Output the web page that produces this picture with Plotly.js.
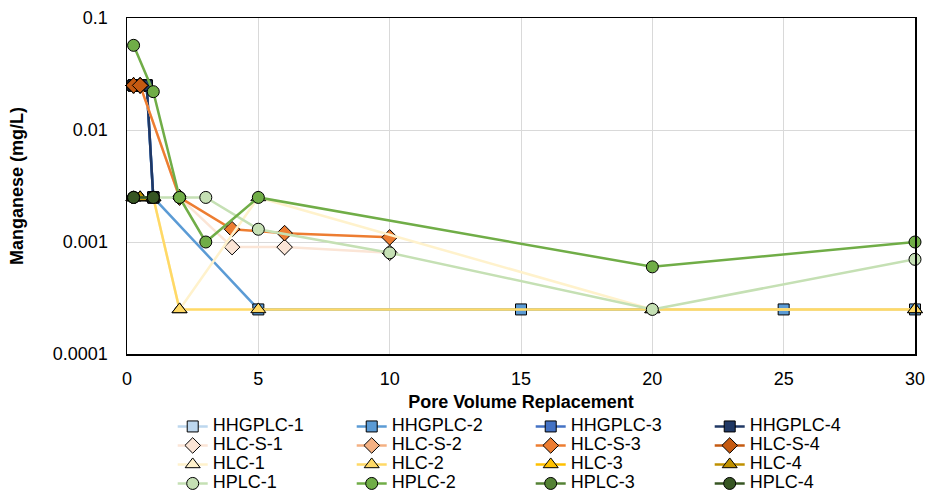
<!DOCTYPE html>
<html>
<head>
<meta charset="utf-8">
<script src="https://cdn.plot.ly/plotly-3.0.1.min.js"></script>
<style>html,body{margin:0;padding:0;background:#fff;}#chart{width:929px;height:491px;}</style>
</head>
<body>
<div id="chart"></div>
<script>
// ---- data ----
const names = ["HHGPLC-1","HHGPLC-2","HHGPLC-3","HHGPLC-4",
               "HLC-S-1","HLC-S-2","HLC-S-3","HLC-S-4",
               "HLC-1","HLC-2","HLC-3","HLC-4",
               "HPLC-1","HPLC-2","HPLC-3","HPLC-4"];

const hhgplc1X = [0.25, 0.5, 0.75, 1];
const hhgplc1Y = [0.025, 0.025, 0.025, 0.0025];
const hhgplc2X = [0.25, 0.5, 0.75, 1, 5, 15, 25, 30];
const hhgplc2Y = [0.025, 0.025, 0.025, 0.0025, 0.00025, 0.00025, 0.00025, 0.00025];
const hhgplc3X = [0.25, 0.5, 0.75, 1];
const hhgplc3Y = [0.025, 0.025, 0.025, 0.0025];
const hhgplc4X = [0.25, 0.5, 0.75, 1];
const hhgplc4Y = [0.025, 0.025, 0.025, 0.0025];

const hlcs1X = [0.25, 0.5, 2, 4, 6, 10];
const hlcs1Y = [0.025, 0.025, 0.0025, 0.0009, 0.0009, 0.0008];
const hlcs2X = [0.25, 0.5];
const hlcs2Y = [0.025, 0.025];
const hlcs3X = [0.25, 0.5, 2, 4, 6, 10];
const hlcs3Y = [0.025, 0.025, 0.0025, 0.0013, 0.0012, 0.0011];
const hlcs4X = [0.25, 0.5];
const hlcs4Y = [0.025, 0.025];

const hlc1X = [0.25, 0.5, 1, 2, 5, 20, 30];
const hlc1Y = [0.0025, 0.0025, 0.0025, 0.00025, 0.0025, 0.00025, 0.00025];
const hlc2X = [0.25, 0.5, 1, 2, 5, 20, 30];
const hlc2Y = [0.0025, 0.0025, 0.0025, 0.00025, 0.00025, 0.00025, 0.00025];
const hlc3X = [0.25, 0.5, 1];
const hlc3Y = [0.0025, 0.0025, 0.0025];
const hlc4X = [0.25, 0.5, 1];
const hlc4Y = [0.0025, 0.0025, 0.0025];

const hplc1X = [0.25, 1, 2, 3, 5, 10, 20, 30];
const hplc1Y = [0.0025, 0.0025, 0.0025, 0.0025, 0.0013, 0.0008, 0.00025, 0.0007];
const hplc2X = [0.25, 1, 2, 3, 5, 20, 30];
const hplc2Y = [0.057, 0.022, 0.0025, 0.001, 0.0025, 0.0006, 0.001];
const hplc3X = [0.25, 1];
const hplc3Y = [0.0025, 0.0025];
const hplc4X = [0.25, 1];
const hplc4Y = [0.0025, 0.0025];

const xTicks = [0, 5, 10, 15, 20, 25, 30];
const yTickVals = [0.0001, 0.001, 0.01, 0.1];
const yTickText = ["0.0001", "0.001", "0.01", "0.1"];

// ---- styles ----
const xs = [hhgplc1X,hhgplc2X,hhgplc3X,hhgplc4X,hlcs1X,hlcs2X,hlcs3X,hlcs4X,hlc1X,hlc2X,hlc3X,hlc4X,hplc1X,hplc2X,hplc3X,hplc4X];
const ys = [hhgplc1Y,hhgplc2Y,hhgplc3Y,hhgplc4Y,hlcs1Y,hlcs2Y,hlcs3Y,hlcs4Y,hlc1Y,hlc2Y,hlc3Y,hlc4Y,hplc1Y,hplc2Y,hplc3Y,hplc4Y];
const colors = ["#BDD7EE","#5B9BD5","#4472C4","#203864",
                "#FBE5D6","#F4B183","#ED7D31","#C55A11",
                "#FFF2CC","#FFD966","#FFC000","#BF9000",
                "#C5E0B4","#70AD47","#548235","#375623"];
const symbols = ["square","square","square","square",
                 "diamond","diamond","diamond","diamond",
                 "triangle-up","triangle-up","triangle-up","triangle-up",
                 "circle","circle","circle","circle"];
const sizes = {square: 11, diamond: 12, "triangle-up": 13, circle: 12};

const FONT = "Liberation Sans, Arial, sans-serif";

const traces = names.map((n, i) => ({
  type: "scatter",
  mode: "lines+markers",
  name: '<span style="font-size:18px">' + n + '</span>',
  x: xs[i],
  y: ys[i],
  cliponaxis: false,
  line: {color: colors[i], width: 2.5},
  marker: {symbol: symbols[i], size: sizes[symbols[i]], color: colors[i], line: {color: "#000", width: 1}}
}));

const layout = {
  width: 929, height: 491,
  margin: {l: 127, r: 14, t: 18, b: 137},
  paper_bgcolor: "#fff", plot_bgcolor: "#fff",
  font: {family: FONT, size: 18, color: "#000"},
  showlegend: true,
  xaxis: {
    range: [0, 30], tickvals: xTicks, ticktext: xTicks.map(String),
    showgrid: true, gridcolor: "#D9D9D9", gridwidth: 1,
    showline: true, linecolor: "#000", linewidth: 1.5, mirror: true,
    zeroline: false, ticks: "", ticklabelstandoff: 8,
    tickfont: {family: FONT, size: 18, color: "#000"},
    title: {text: "<b>Pore Volume Replacement</b>", font: {family: FONT, size: 18, color: "#000"}, standoff: 9}
  },
  yaxis: {
    type: "log", range: [-4, -1], tickvals: yTickVals, ticktext: yTickText,
    showgrid: true, gridcolor: "#D9D9D9", gridwidth: 1,
    showline: true, linecolor: "#000", linewidth: 1.5, mirror: true,
    zeroline: false, ticks: "", ticklabelstandoff: 14,
    tickfont: {family: FONT, size: 18, color: "#000"},
    title: {text: "<b>Manganese (mg/L)</b>", font: {family: FONT, size: 18, color: "#000"}, standoff: 24}
  },
  legend: {
    orientation: "h", x: 0.058, xanchor: "left",
    yref: "container", y: 0.161, yanchor: "top",
    entrywidth: 134, entrywidthmode: "pixels",
    font: {family: FONT, size: 12, color: "#000"},
    bgcolor: "rgba(0,0,0,0)", borderwidth: 0, tracegroupgap: 0
  }
};

Plotly.newPlot("chart", traces, layout, {displayModeBar: false, staticPlot: true});
</script>
</body>
</html>
